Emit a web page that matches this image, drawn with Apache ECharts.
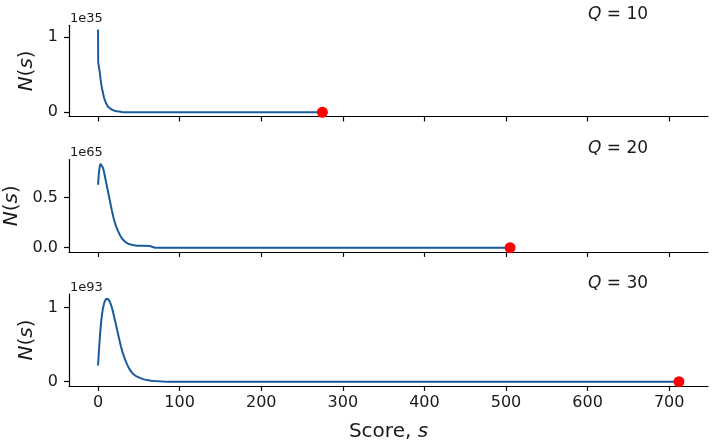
<!DOCTYPE html>
<html><head><meta charset="utf-8">
<script src="https://cdn.jsdelivr.net/npm/echarts@6/dist/echarts.min.js"></script>
<style>html,body{margin:0;padding:0;background:#fff}#c{width:714px;height:446px}</style>
</head><body><div id="c"></div>
<script>
// ---- data (values in units of the panel's exponent) ----
const xTicks = [0, 100, 200, 300, 400, 500, 600, 700];

const score10 = [0, 0.2, 1, 2, 3, 4, 5, 6, 7, 8, 10, 12, 14, 16, 18, 20, 23, 26, 29, 32, 34, 275];
const count10 = [1.10, 0.66, 0.61, 0.54, 0.45, 0.37, 0.31, 0.26, 0.21, 0.17, 0.115, 0.078, 0.055, 0.04, 0.029, 0.021, 0.014, 0.009, 0.004, 0.001, 0, 0];

const score20 = [0, 1, 2, 3, 4, 5, 6, 7, 8, 9, 10, 11, 12, 13, 14, 15, 16, 17, 18, 19, 20, 22, 24, 26, 28, 30, 32, 34, 37, 40, 44, 48, 55, 63, 66, 68, 70, 505];
const count20 = [0.63, 0.74, 0.81, 0.84, 0.835, 0.82, 0.80, 0.77, 0.73, 0.69, 0.65, 0.61, 0.57, 0.53, 0.49, 0.45, 0.41, 0.37, 0.335, 0.30, 0.27, 0.215, 0.175, 0.14, 0.11, 0.085, 0.066, 0.053, 0.04, 0.031, 0.024, 0.02, 0.019, 0.018, 0.01, 0.003, 0, 0];

const score30 = [0, 1, 2, 3, 4, 5, 6, 7, 8, 9, 10, 11, 12, 13, 14, 15, 16, 17, 18, 19, 20, 22, 24, 26, 28, 30, 32, 34, 36, 38, 40, 43, 46, 50, 55, 60, 65, 70, 75, 80, 85, 712];
const count30 = [0.22, 0.40, 0.57, 0.71, 0.83, 0.92, 0.99, 1.04, 1.08, 1.105, 1.12, 1.125, 1.12, 1.11, 1.09, 1.065, 1.04, 1.0, 0.96, 0.91, 0.865, 0.77, 0.67, 0.575, 0.48, 0.40, 0.335, 0.275, 0.225, 0.18, 0.145, 0.105, 0.08, 0.058, 0.035, 0.022, 0.014, 0.009, 0.005, 0.002, 0, 0];

const maxScores = [275, 505, 712];
const qValues = ['10', '20', '30'];
const exponents = ['1e35', '1e65', '1e93'];
const yTickValues = [[0, 1], [0, 0.5], [0, 1]];
const yTickDecimals = [0, 1, 0];

// ---- layout ----
const FONT = 'DejaVu Sans';
const LINE = '#1a5b9c';
const grids = [
  {left: 69, right: 6, top: 25.3, height: 91.1, outerBoundsMode: 'none', containLabel: false},
  {left: 69, right: 6, top: 159.5, height: 92.4, outerBoundsMode: 'none', containLabel: false},
  {left: 69, right: 6, top: 294.2, height: 91.7, outerBoundsMode: 'none', containLabel: false}
];
const yRanges = [[-0.055, 1.155], [-0.042, 0.882], [-0.0563, 1.182]];
const scores = [score10, score20, score30];
const counts = [count10, count20, count30];

const chart = echarts.init(document.getElementById('c'), null, {renderer: 'canvas'});
const xAxes = [], yAxes = [], series = [], graphics = [];
for (let i = 0; i < 3; i++) {
  xAxes.push({
    type: 'value', gridIndex: i, min: -35.6, max: 747.6,
    splitLine: {show: false},
    axisLine: {show: true, onZero: false, lineStyle: {color: '#000', width: 1.2}},
    axisTick: {show: true, length: 5, customValues: xTicks, lineStyle: {color: '#000', width: 1.2}},
    axisLabel: {show: i === 2, customValues: xTicks, fontFamily: FONT, fontSize: 16, color: '#1a1a1a', margin: 9},
    name: i === 2 ? '{n|Score, }{i|s}' : '',
    nameLocation: 'middle', nameGap: 36,
    nameTextStyle: {rich: {n: {fontFamily: FONT, fontSize: 20, color: '#1a1a1a'}, i: {fontFamily: FONT, fontSize: 20, fontStyle: 'italic', color: '#1a1a1a'}}}
  });
  const dec = yTickDecimals[i];
  yAxes.push({
    type: 'value', gridIndex: i, min: yRanges[i][0], max: yRanges[i][1],
    splitLine: {show: false},
    axisLine: {show: true, onZero: false, lineStyle: {color: '#000', width: 1.2}},
    axisTick: {show: true, length: 5, customValues: yTickValues[i], lineStyle: {color: '#000', width: 1.2}},
    axisLabel: {customValues: yTickValues[i], fontFamily: FONT, fontSize: 16, color: '#1a1a1a', margin: 11,
      formatter: v => v.toFixed(dec)},
    name: '{i|N}{n|(}{i|s}{n|)}', nameLocation: 'middle', nameRotate: 90, nameGap: 25,
    nameTextStyle: {rich: {n: {fontFamily: FONT, fontSize: 20, color: '#1a1a1a'}, i: {fontFamily: FONT, fontSize: 20, fontStyle: 'italic', color: '#1a1a1a'}}}
  });
  series.push({
    type: 'line', xAxisIndex: i, yAxisIndex: i, showSymbol: false, symbol: 'none',
    data: scores[i].map((s, k) => [s, counts[i][k]]),
    lineStyle: {color: LINE, width: 2}, animation: false, z: 2
  });
  series.push({
    type: 'scatter', xAxisIndex: i, yAxisIndex: i, symbol: 'circle', symbolSize: 11,
    data: [[maxScores[i], 0]], itemStyle: {color: '#ff0000', opacity: 1}, animation: false, z: 3
  });
  graphics.push({
    type: 'text', left: 70, top: grids[i].top - 13,
    style: {text: exponents[i], font: '13px "DejaVu Sans"', fill: '#1a1a1a'}
  });
  graphics.push({
    type: 'text', left: 588, top: grids[i].top - 19,
    style: {text: '{i|Q}{n| = ' + qValues[i] + '}', rich: {
      i: {fontFamily: FONT, fontSize: 17, fontStyle: 'italic', fill: '#1a1a1a'},
      n: {fontFamily: FONT, fontSize: 17, fill: '#1a1a1a'}}}
  });
}
chart.setOption({
  animation: false,
  backgroundColor: '#fff',
  grid: grids,
  xAxis: xAxes,
  yAxis: yAxes,
  series: series,
  graphic: graphics
});
</script></body></html>
